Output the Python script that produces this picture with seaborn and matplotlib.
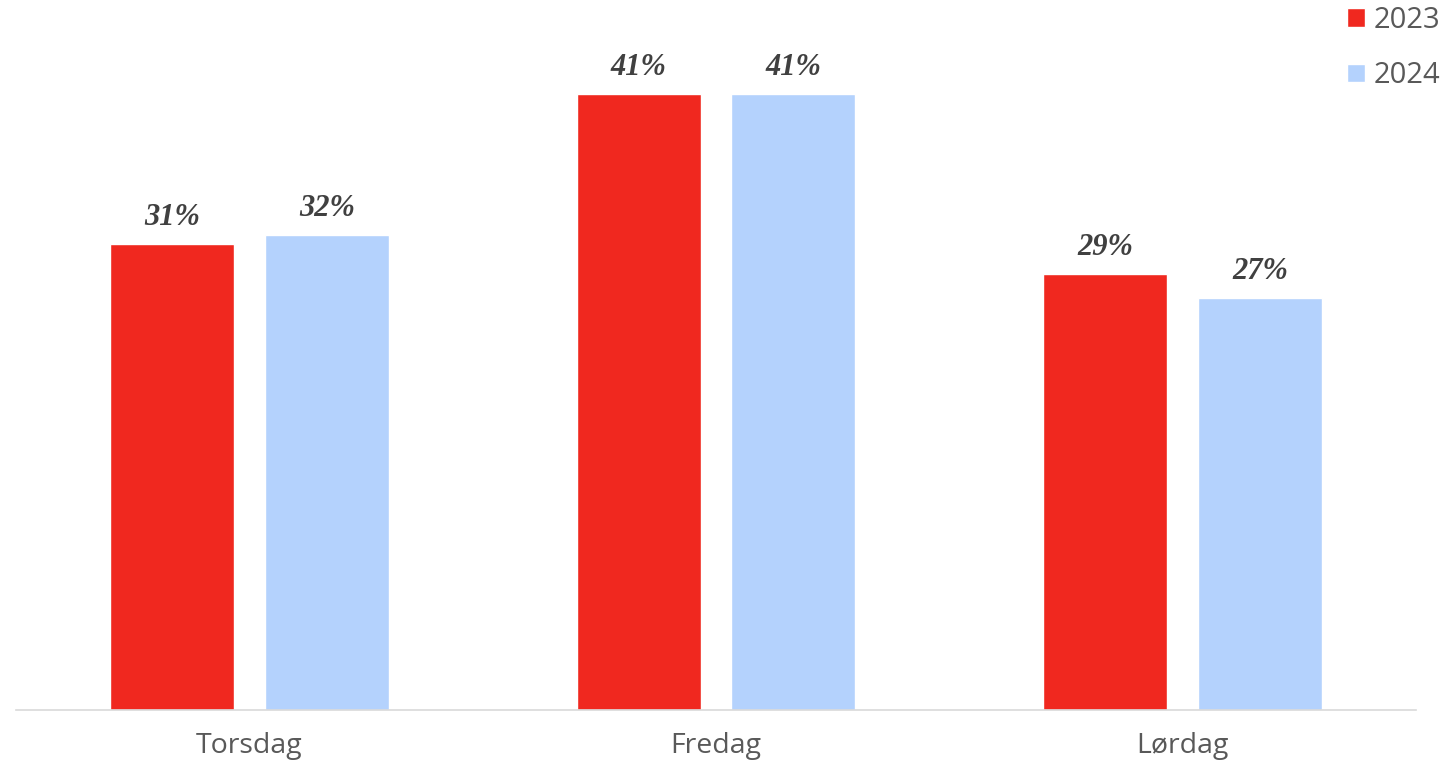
"""Andel per dag, 2023 vs 2024"""
import pandas as pd
import matplotlib
matplotlib.use("Agg")
import matplotlib.pyplot as plt
import seaborn as sns

days = ["Torsdag", "Fredag", "Lørdag"]
years = ["2023", "2024"]
share_2023 = [31.0, 41.0, 29.0]
share_2024 = [31.6, 41.0, 27.4]

colors = {"2023": "#F0281F", "2024": "#B4D2FD"}

df = pd.DataFrame({
    "dag": days * 2,
    "år": ["2023"] * 3 + ["2024"] * 3,
    "andel": share_2023 + share_2024,
})

sns.set_theme(style="white")
plt.rcParams["font.family"] = ["Open Sans", "DejaVu Sans"]

fig = plt.figure(figsize=(14.4, 7.64), dpi=100)
ax = fig.add_axes([16 / 1440, 54 / 764, 1400 / 1440, 710 / 764])

sns.barplot(
    data=df, x="dag", y="andel", hue="år", hue_order=years,
    palette=colors, width=0.664, gap=0.2, saturation=1,
    ax=ax, legend=True,
)

ax.set_xlim(-0.5, 2.5)
ax.set_ylim(0, 47.27)
ax.set_xlabel("")
ax.set_ylabel("")
ax.set_yticks([])
sns.despine(ax=ax, left=True)
ax.spines["bottom"].set_color("#d9d9d9")
ax.spines["bottom"].set_linewidth(1.2)
ax.tick_params(axis="x", length=0, pad=16, labelsize=20.5, labelcolor="#595959")

# verdietiketter
for cont in ax.containers:
    ax.bar_label(
        cont, fmt="{:.0f}%", padding=9, fontsize=22, color="#404040",
        family="Liberation Serif", style="italic", fontweight="bold",
    )

leg = ax.legend(
    loc="upper right", bbox_to_anchor=(1.0, 1.0 - 6 / 764),
    bbox_transform=fig.transFigure, frameon=False, fontsize=21,
    handlelength=0.6, handleheight=0.6, handletextpad=0.3,
    labelspacing=0.9, borderaxespad=0.0, borderpad=0.0,
)
for t in leg.get_texts():
    t.set_color("#595959")

plt.savefig("out.png", dpi=100)
plt.close()
